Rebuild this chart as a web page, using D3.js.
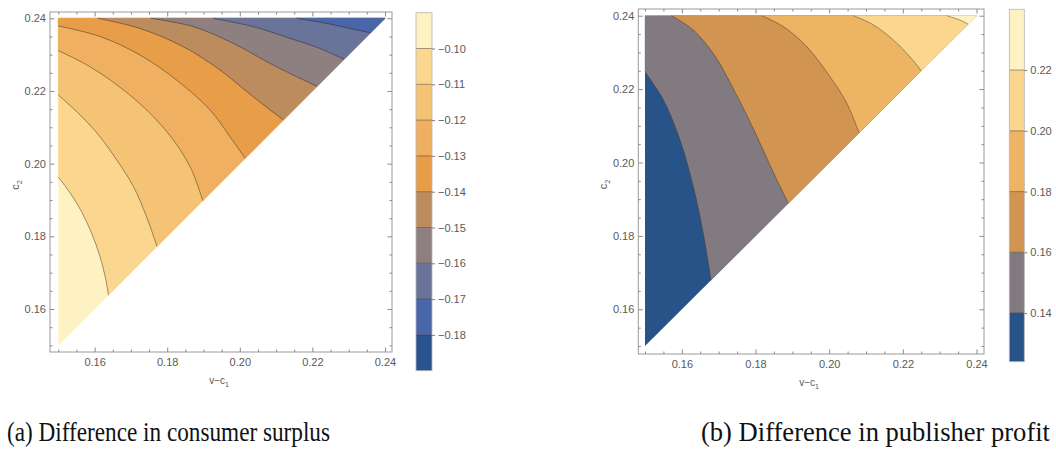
<!DOCTYPE html>
<html><head><meta charset="utf-8">
<script src="https://cdn.jsdelivr.net/npm/d3@7"></script>
<style>html,body{margin:0;padding:0;background:#fff;}</style>
</head><body>
<svg id="c" width="1056" height="452"></svg>
<script>
// ---------- DATA ----------
// Panel (a): difference in consumer surplus
const leftLevels = [-0.10, -0.11, -0.12, -0.13, -0.14, -0.15, -0.16, -0.17, -0.18];
const leftBarRange = [-0.19, -0.09];
const leftTicks = [-0.10, -0.11, -0.12, -0.13, -0.14, -0.15, -0.16, -0.17, -0.18];
const leftColors = ["#FEF2C2", "#FAD68E", "#F5C374", "#EFB061", "#E89E48", "#BD8C5E", "#8E7F80", "#6A7399", "#4967A8", "#2B548F"]; // high -> low
const leftContours = [
  [[0.15,0.1963],[0.1532,0.1920],[0.1564,0.1868],[0.1592,0.1808],[0.1615,0.1744],[0.1631,0.1680],[0.1638,0.1638]],
  [[0.15,0.2189],[0.1560,0.2134],[0.1615,0.2074],[0.1661,0.2010],[0.1707,0.1937],[0.1743,0.1854],[0.1772,0.1772]],
  [[0.15,0.2311],[0.1578,0.2272],[0.1661,0.2217],[0.1743,0.2148],[0.1817,0.2065],[0.1867,0.1983],[0.1898,0.1898]],
  [[0.15,0.2379],[0.1615,0.2350],[0.1725,0.2299],[0.1826,0.2230],[0.1918,0.2148],[0.1973,0.2074],[0.2015,0.2015]],
  [[0.1609,0.24],[0.1725,0.2372],[0.1844,0.2322],[0.1945,0.2258],[0.2037,0.2184],[0.2120,0.2120]],
  [[0.1755,0.24],[0.1872,0.2377],[0.1982,0.2331],[0.2083,0.2276],[0.2147,0.2244],[0.2213,0.2213]],
  [[0.1926,0.24],[0.2037,0.2377],[0.2138,0.2345],[0.2221,0.2317],[0.2287,0.2287]],
  [[0.2157,0.24],[0.2239,0.2386],[0.2304,0.2372],[0.2360,0.2360]]
];
// Panel (b): difference in publisher profit
const rightLevels = [0.14, 0.16, 0.18, 0.20, 0.22];
const rightBarRange = [0.124, 0.24];
const rightTicks = [0.14, 0.16, 0.18, 0.20, 0.22];
const rightColors = ["#285389", "#817A80", "#D19451", "#EDB463", "#FAD68E", "#FEF2C4"]; // low -> high
const rightContours = [
  [[0.15,0.2247],[0.1550,0.2170],[0.1595,0.2061],[0.1631,0.1934],[0.1658,0.1807],[0.1679,0.1679]],
  [[0.1572,0.24],[0.1631,0.2361],[0.1690,0.2290],[0.1740,0.2200],[0.1795,0.2090],[0.1845,0.1980],[0.1889,0.1889]],
  [[0.1817,0.24],[0.1876,0.2370],[0.1939,0.2316],[0.2002,0.2234],[0.2048,0.2161],[0.2081,0.2081]],
  [[0.2066,0.24],[0.2120,0.2375],[0.2174,0.2334],[0.2219,0.2288],[0.2250,0.2250]],
  [[0.2319,0.24],[0.2355,0.2388],[0.2377,0.2377]]
];
const xTicksMajor = [0.16, 0.18, 0.20, 0.22, 0.24];
const yTicksMajor = [0.16, 0.18, 0.20, 0.22, 0.24];
const captions = ["(a) Difference in consumer surplus", "(b) Difference in publisher profit"];

// ---------- DRAW ----------
const svg = d3.select("#c");
const fmt = d3.format(".2f");
const minus = s => s.replace("-", "\u2212");
const tickColor = "#8a8a8a", labelColor = "#5a5a5a";
const domainLo = 0.15, domainHi = 0.24;
const minorTicks = d3.range(0, 21).map(i => +(0.145 + i*0.005).toFixed(3));
const lineCol = "rgba(40,30,20,0.55)";

function panel(cfg) {
  const x = d3.scaleLinear().domain(cfg.xd).range([cfg.fx0, cfg.fx1]);
  const y = d3.scaleLinear().domain(cfg.yd).range([cfg.fy1, cfg.fy0]);
  const g = svg.append("g");
  const line = d3.line().x(d => x(d[0])).y(d => y(d[1]));
  const smooth = d3.line().x(d => x(d[0])).y(d => y(d[1])).curve(d3.curveCatmullRom.alpha(0.5));
  const tri = [[domainLo,domainLo],[domainLo,domainHi],[domainHi,domainHi]];
  g.append("path").attr("d", line(tri) + "Z").attr("fill", cfg.colors[0]);
  cfg.contours.forEach((c, i) => {
    const corners = [[domainHi, domainHi]];
    if (c[0][0] === domainLo) corners.push([domainLo, domainHi]);
    const d = smooth(c) + corners.map(p => `L${x(p[0])},${y(p[1])}`).join("") + "Z";
    g.append("path").attr("d", d).attr("fill", cfg.colors[i+1])
      .attr("stroke", cfg.colors[i+1]).attr("stroke-width", 0.4);
  });
  cfg.contours.forEach(c => {
    g.append("path").attr("d", smooth(c)).attr("fill", "none")
      .attr("stroke", lineCol).attr("stroke-width", 0.8);
  });
  g.append("rect").attr("x", cfg.fx0).attr("y", cfg.fy0)
    .attr("width", cfg.fx1 - cfg.fx0).attr("height", cfg.fy1 - cfg.fy0)
    .attr("fill", "none").attr("stroke", "#9a9a9a").attr("stroke-width", 1);
  const mx = minorTicks.filter(v => v >= cfg.xd[0] && v <= cfg.xd[1] && !xTicksMajor.some(m => Math.abs(m - v) < 1e-9));
  const my = minorTicks.filter(v => v >= cfg.yd[0] && v <= cfg.yd[1] && !yTicksMajor.some(m => Math.abs(m - v) < 1e-9));
  function styleAxis(a) {
    a.select(".domain").remove();
    a.selectAll("line").attr("stroke", tickColor);
    a.selectAll("text").attr("fill", labelColor).attr("font-family", "Liberation Sans, Arial, sans-serif").attr("font-size", 11);
  }
  g.append("g").attr("transform", `translate(0,${cfg.fy1})`)
    .call(d3.axisBottom(x).tickValues(xTicksMajor).tickSize(-4.5).tickPadding(6).tickFormat(fmt)).call(styleAxis);
  g.append("g").attr("transform", `translate(0,${cfg.fy1})`)
    .call(d3.axisBottom(x).tickValues(mx).tickSize(-2.5).tickFormat("")).call(styleAxis);
  g.append("g").attr("transform", `translate(0,${cfg.fy0})`)
    .call(d3.axisTop(x).tickValues(xTicksMajor).tickSize(-4.5).tickFormat("")).call(styleAxis);
  g.append("g").attr("transform", `translate(0,${cfg.fy0})`)
    .call(d3.axisTop(x).tickValues(mx).tickSize(-2.5).tickFormat("")).call(styleAxis);
  g.append("g").attr("transform", `translate(${cfg.fx0},0)`)
    .call(d3.axisLeft(y).tickValues(yTicksMajor).tickSize(-4.5).tickPadding(4).tickFormat(fmt)).call(styleAxis);
  g.append("g").attr("transform", `translate(${cfg.fx0},0)`)
    .call(d3.axisLeft(y).tickValues(my).tickSize(-2.5).tickFormat("")).call(styleAxis);
  g.append("g").attr("transform", `translate(${cfg.fx1},0)`)
    .call(d3.axisRight(y).tickValues(yTicksMajor).tickSize(-4.5).tickFormat("")).call(styleAxis);
  g.append("g").attr("transform", `translate(${cfg.fx1},0)`)
    .call(d3.axisRight(y).tickValues(my).tickSize(-2.5).tickFormat("")).call(styleAxis);
  const xl = g.append("text").attr("x", (cfg.fx0 + cfg.fx1)/2 - 2).attr("y", cfg.fy1 + 32)
    .attr("text-anchor", "middle").attr("fill", labelColor)
    .attr("font-family", "Liberation Sans, Arial, sans-serif").attr("font-size", 10);
  xl.append("tspan").text("v\u2212c");
  xl.append("tspan").attr("font-size", 7).attr("dy", 2.5).text("1");
  const yl = g.append("text").attr("transform", `translate(${cfg.fx0 - 31},${(cfg.fy0+cfg.fy1)/2 + 3}) rotate(-90)`)
    .attr("text-anchor", "middle").attr("fill", labelColor)
    .attr("font-family", "Liberation Sans, Arial, sans-serif").attr("font-size", 11);
  yl.append("tspan").text("c");
  yl.append("tspan").attr("font-size", 7.5).attr("dy", 2.5).text("2");

  // colour bar
  const b = d3.scaleLinear().domain(cfg.barRange).range([cfg.by1, cfg.by0]);
  const edges = [cfg.barRange[0]].concat(cfg.barLevels.slice().sort((a,b)=>a-b)).concat([cfg.barRange[1]]);
  const barColors = cfg.barColorsLowHigh;
  const bg = svg.append("g");
  for (let i = 0; i < edges.length - 1; i++) {
    bg.append("rect").attr("x", cfg.bx0).attr("width", cfg.bx1 - cfg.bx0)
      .attr("y", b(edges[i+1])).attr("height", b(edges[i]) - b(edges[i+1]))
      .attr("fill", barColors[i]);
  }
  cfg.barLevels.forEach(v => {
    bg.append("line").attr("x1", cfg.bx0).attr("x2", cfg.bx1).attr("y1", b(v)).attr("y2", b(v))
      .attr("stroke", lineCol).attr("stroke-width", 0.8);
  });
  bg.append("rect").attr("x", cfg.bx0).attr("y", cfg.by0).attr("width", cfg.bx1 - cfg.bx0)
    .attr("height", cfg.by1 - cfg.by0).attr("fill", "none").attr("stroke", "#b5b5b5").attr("stroke-width", 0.8);
  const ba = bg.append("g").attr("transform", `translate(${cfg.bx1},0)`)
    .call(d3.axisRight(b).tickValues(cfg.barTicks).tickSize(3).tickPadding(3).tickFormat(d => minus(fmt(d))));
  ba.select(".domain").remove();
  ba.selectAll("line").attr("stroke", "#8a7a6a");
  ba.selectAll("text").attr("fill", labelColor).attr("font-family", "Liberation Sans, Arial, sans-serif").attr("font-size", 11);
}

panel({
  xd: [0.14771, 0.24193], yd: [0.14817, 0.24173],
  fx0: 50, fx1: 392, fy0: 12, fy1: 352,
  colors: leftColors, contours: leftContours,
  barRange: leftBarRange, barLevels: leftLevels, barTicks: leftTicks,
  barColorsLowHigh: leftColors.slice().reverse(),
  bx0: 416, bx1: 432, by0: 12.7, by1: 370.7
});
panel({
  xd: [0.14818, 0.24203], yd: [0.14782, 0.24183],
  fx0: 638.3, fx1: 984, fy0: 9, fy1: 354,
  colors: rightColors, contours: rightContours,
  barRange: rightBarRange, barLevels: rightLevels, barTicks: rightTicks,
  barColorsLowHigh: rightColors,
  bx0: 1009.3, bx1: 1024.3, by0: 9.3, by1: 361.7
});

const capPos = [[7, 323], [701, 349]];
captions.forEach((t, i) => {
  svg.append("g").attr("transform", `translate(${capPos[i][0]},441) scale(1,1.12)`)
    .append("text").attr("x", 0).attr("y", 0)
    .attr("textLength", capPos[i][1]).attr("lengthAdjust", "spacingAndGlyphs")
    .attr("font-family", "Liberation Serif, serif").attr("font-size", 25).attr("fill", "#111").text(t);
});
</script>
</body></html>
